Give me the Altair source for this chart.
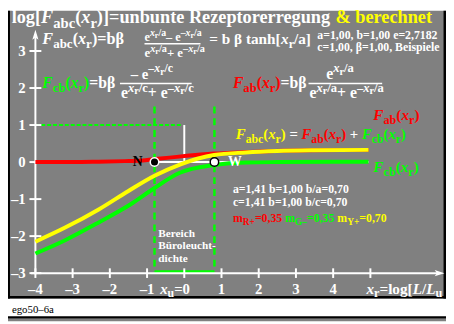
import re
import altair as alt
import pandas as pd

# ---------------- values ----------------
red_x = [-4.0, -3.0, -2.3, -1.6, -1.25, -0.8, -0.4, 0.07, 0.8, 1.65, 2.44, 3.5, 4.95]
red_y = [0.0, 0.0, 0.01, 0.025, 0.035, 0.08, 0.12, 0.17, 0.23, 0.27, 0.30, 0.32, 0.33]
yellow_x = [-4.0, -3.2, -2.3, -1.5, -0.8, -0.1, 0.8, 1.65, 2.5, 3.5, 4.95]
yellow_y = [-2.15, -1.77, -1.28, -0.78, -0.37, -0.06, 0.19, 0.26, 0.30, 0.32, 0.33]
green_x = [-4.0, -3.2, -2.3, -1.44, -0.8, -0.12, 0.8, 1.65, 2.5, 4.95]
green_y = [-2.47, -2.11, -1.63, -1.14, -0.70, -0.29, -0.08, -0.01, 0.0, 0.01]

ytick_vals = [-3, -2, -1, 0, 1, 2, 3]
ytick_text = ["–3", "–2", "–1", "0", "1", "2", "3"]
xtick_vals = [-4, -3, -2, -1, 0, 1, 2, 3, 4, 5]
xlab_vals = [-4, -3, -2, -1, 1, 2, 3, 4]
xlab_text = ["–4", "–3", "–2", "–1", "1", "2", "3", "4"]
pt_names = ["N", "W"]
pt_x = [-0.8, 0.81]
pt_y = [0.0, 0.0]
office_x = [-0.8, 0.81]
office_top = 1.5
office_bottom = -2.96

# ---------------- layout ----------------
W, H = 446, 316
OX, OY = 8, 8
X0PIX, XS = 179.5, 37.9
Y0PIX, YS = 154.0, 37.7
XD = [-X0PIX / XS, (W - X0PIX) / XS]
YD = [(Y0PIX - H) / YS, Y0PIX / YS]
xs = alt.Scale(domain=XD, nice=False, zero=False)
ys = alt.Scale(domain=YD, nice=False, zero=False)

GRAY = "#808080"
WHITE = "#ffffff"
RED = "#ff0000"
GREEN = "#00ff00"
YELLOW = "#ffff00"
BLACK = "#000000"


def dx(page_x):
    return (page_x - OX - X0PIX) / XS


def dy(page_y):
    return (Y0PIX - (page_y - OY)) / YS


BOLD = {' ': 250, '!': 333, '&': 833, '(': 333, ')': 333, '+': 570, ',': 250, '-': 333,
        '.': 250, '/': 278, ':': 333, '=': 570, '[': 333, ']': 333, '–': 500, '−': 570,
        'β': 556, 'ü': 556,
        'A': 722, 'B': 667, 'C': 722, 'D': 722, 'E': 667, 'F': 611, 'G': 778, 'H': 778,
        'I': 389, 'J': 500, 'K': 778, 'L': 667, 'M': 944, 'N': 722, 'O': 778, 'P': 611,
        'Q': 778, 'R': 722, 'S': 556, 'T': 667, 'U': 722, 'V': 722, 'W': 1000, 'X': 722,
        'Y': 722, 'Z': 667,
        'a': 500, 'b': 556, 'c': 444, 'd': 556, 'e': 444, 'f': 333, 'g': 500, 'h': 556,
        'i': 278, 'j': 333, 'k': 556, 'l': 278, 'm': 833, 'n': 556, 'o': 500, 'p': 556,
        'q': 556, 'r': 444, 's': 389, 't': 333, 'u': 556, 'v': 500, 'w': 722, 'x': 500,
        'y': 500, 'z': 444}
for d in "0123456789":
    BOLD[d] = 500
BOLDI = {'F': 667, 'L': 611, 'x': 500}

LEVELS = {'': (1.0, 0.0, False), 'i': (1.0, 0.0, True),
          'b': (0.8, 0.25, False), 'p': (0.8, -0.42, False),
          'pi': (0.8, -0.42, True), 'pb': (0.65, -0.24, False)}


def cw(ch, it):
    if it and ch in BOLDI:
        return BOLDI[ch] / 1000.0
    return BOLD.get(ch, 500) / 1000.0


rows = []


def put(runs, x, y, S, bold=True):
    if isinstance(runs, str):
        runs = [(runs, WHITE)]
    cx = x
    for markup, col in runs:
        for m in re.finditer(r'\{(\w+):([^}]*)\}|([^{]+)', markup):
            kind = m.group(1) or ''
            txt = m.group(2) if m.group(1) else m.group(3)
            f, off, it = LEVELS[kind]
            fs = S * f
            lead = len(txt) - len(txt.lstrip(' '))
            wlead = sum(cw(c, it) for c in txt[:lead]) * fs
            w = sum(cw(c, it) for c in txt) * fs
            shown = txt.strip(' ')
            if shown:
                st = ('i' if it else 'n') if bold else 'r'
                rows.append(dict(t=shown, x=dx(cx + wlead), y=dy(y + off * S), fs=fs, c=col, st=st))
            cx += w
    return cx


bars = []  # fraction bars (page x1, x2, y)

# title
put([("log[{i:F}{b:abc}({i:x}{b:r})]=unbunte Rezeptorerregung", WHITE), (" & berechnet", YELLOW)],
    11.7, 20.5, 18.6)
# tanh formula
put("{i:F}{b:abc}({i:x}{b:r})=bβ", 43, 42, 16.5)
put("e{pi:x}{pb:r}{p:/a}– e{p:–}{pi:x}{pb:r}{p:/a}", 147, 38.5, 12.5)
bars.append((147, 204, 41.5))
put("e{pi:x}{pb:r}{p:/a}+ e{p:–}{pi:x}{pb:r}{p:/a}", 147, 55, 13)
put("= b β tanh[{i:x}{b:r}/a]", 213, 42, 15.5)
put("a=1,00, b=1,00 e=2,7182", 323, 37, 12)
put("c=1,00, β=1,00, Beispiele", 323, 49, 12)
# green formula
put([("{i:F}{b:cb}({i:x}{b:r})", GREEN), ("=bβ", WHITE)], 43, 87, 16)
put("– e{p:–}{pi:x}{pb:r}{p:/c}", 133, 77, 15)
bars.append((122, 195, 82))
put("e{pi:x}{pb:r}{p:/c}+ e{p:–}{pi:x}{pb:r}{p:/c}", 123, 97, 16)
# red formula
put([("{i:F}{b:ab}({i:x}{b:r})", RED), ("=bβ", WHITE)], 237, 87, 16)
put("e{pi:x}{pb:r}{p:/a}", 332, 77, 16)
bars.append((314, 389, 82))
put("e{pi:x}{pb:r}{p:/a}+ e{p:–}{pi:x}{pb:r}{p:/a}", 315, 97, 16)
# curve labels
put([("{i:F}{b:ab}({i:x}{b:r})", RED)], 380, 119.5, 15.5)
put([("{i:F}{b:abc}({i:x}{b:r})", YELLOW), (" = ", WHITE), ("{i:F}{b:ab}({i:x}{b:r})", RED),
     (" + ", WHITE), ("{i:F}{b:cb}({i:x}{b:r})", GREEN)], 240, 139, 15)
put([("{i:F}{b:cb}({i:x}{b:r})", GREEN)], 380, 172, 15.5)
# points
put([("N", BLACK)], 135, 166, 14)
put([("W", WHITE)], 232, 166, 14)
# parameters
put("a=1,41 b=1,00 b/a=0,70", 237, 193, 12)
put("c=1,41 b=1,00 b/c=0,70", 237, 207, 12)
put([("m{b:R+}=0,35 ", RED), ("m{b:G–}=0,35 ", GREEN), ("m{b:Y+}=0,70", YELLOW)], 237, 223, 12)
# office range
put("Bereich", 161, 238, 11.5)
put("Büroleucht-", 161, 251, 11.5)
put("dichte", 161, 264, 11.5)
# axis special labels
put("{i:x}{b:u}=0", 163, 296, 15)
put("{i:x}{b:r}=log[{i:L}/{i:L}{b:u}", 373, 296, 15.5)
# footer
put([("ego50–6a", BLACK)], 12, 316, 11, bold=False)

txt_df = pd.DataFrame(rows)

one = pd.DataFrame({"k": [0]})


def prect(x1, x2, y1, y2, color):
    return alt.Chart(one).mark_rect(color=color).encode(
        x=alt.value(x1), x2=alt.value(x2), y=alt.value(y1), y2=alt.value(y2))


layers = []
# background panel and frame
layers.append(prect(0, W, 0, 293, GRAY))
layers.append(prect(0, 2, 0, 293, BLACK))
layers.append(prect(443.5, W, 0, 293, BLACK))
layers.append(prect(0, W, 290.5, 293, BLACK))
layers.append(prect(0, W, 311, 313.5, BLACK))
layers.append(prect(0, W, 313.5, H, GRAY))


def rule_df(x1, x2, y1, y2):
    return pd.DataFrame({"x": x1, "x2": x2, "y": y1, "y2": y2})


def rules(df, **kw):
    return alt.Chart(df).mark_rule(**kw).encode(
        x=alt.X("x:Q", scale=xs, axis=None), x2="x2:Q",
        y=alt.Y("y:Q", scale=ys, axis=None), y2="y2:Q")


# office range markers
layers.append(rules(rule_df(office_x, office_x, [office_top] * 2, [office_bottom] * 2),
                    color=GREEN, strokeWidth=2.5, strokeDash=[7, 5]))
layers.append(rules(rule_df([office_x[0]], [office_x[1]], [office_bottom], [office_bottom]),
                    color=GREEN, strokeWidth=3))
layers.append(rules(rule_df([-4.0], [-0.05], [1.0], [1.0]),
                    color=GREEN, strokeWidth=2, strokeDash=[4, 2]))
layers.append(rules(rule_df([0.0], [0.0], [0.0], [1.0]), color=WHITE, strokeWidth=2))
layers.append(rules(rule_df([pt_x[0]], [4.95], [0.0], [0.0]), color=WHITE, strokeWidth=2))

# axes
layers.append(rules(rule_df([-4.0], [-4.0], [-3.03], [3.42]), color=WHITE, strokeWidth=2))
layers.append(rules(rule_df([-4.12], [6.85], [-3.0], [-3.0]), color=WHITE, strokeWidth=2))
layers.append(rules(rule_df([-4.16] * len(ytick_vals), [-3.84] * len(ytick_vals), ytick_vals, ytick_vals),
                    color=WHITE, strokeWidth=2))
layers.append(rules(rule_df(xtick_vals, xtick_vals, [-3.13] * len(xtick_vals), [-2.87] * len(xtick_vals)),
                    color=WHITE, strokeWidth=2))
arrow_up = pd.DataFrame({"x": [-4.0], "y": [3.42]})
arrow_rt = pd.DataFrame({"x": [6.84], "y": [-3.0]})
layers.append(alt.Chart(arrow_up).mark_point(
    shape="M0,-1L0.55,0.75L0,0.35L-0.55,0.75Z", filled=True, color=WHITE, size=130, opacity=1).encode(
    x=alt.X("x:Q", scale=xs, axis=None), y=alt.Y("y:Q", scale=ys, axis=None)))
layers.append(alt.Chart(arrow_rt).mark_point(
    shape="M1,0L-0.75,0.55L-0.35,0L-0.75,-0.55Z", filled=True, color=WHITE, size=130, opacity=1).encode(
    x=alt.X("x:Q", scale=xs, axis=None), y=alt.Y("y:Q", scale=ys, axis=None)))


# curves
def curve(xv, yv, color):
    df = pd.DataFrame({"x": xv, "y": yv})
    return alt.Chart(df).mark_line(color=color, strokeWidth=4, interpolate="monotone").encode(
        x=alt.X("x:Q", scale=xs, axis=None), y=alt.Y("y:Q", scale=ys, axis=None))


layers.append(curve(green_x, green_y, GREEN))
layers.append(curve(red_x, red_y, RED))
layers.append(curve(yellow_x, yellow_y, YELLOW))

# points N and W
pts = pd.DataFrame({"x": pt_x, "y": pt_y, "n": pt_names})
layers.append(alt.Chart(pts[pts.n == "N"]).mark_point(
    shape="circle", filled=True, fill=BLACK, stroke=WHITE, strokeWidth=1.5, size=75, opacity=1).encode(
    x=alt.X("x:Q", scale=xs, axis=None), y=alt.Y("y:Q", scale=ys, axis=None)))
layers.append(alt.Chart(pts[pts.n == "W"]).mark_point(
    shape="circle", filled=True, fill=WHITE, stroke=BLACK, strokeWidth=1.5, size=75, opacity=1).encode(
    x=alt.X("x:Q", scale=xs, axis=None), y=alt.Y("y:Q", scale=ys, axis=None)))

# fraction bars
bdf = pd.DataFrame({"x": [dx(b[0]) for b in bars], "x2": [dx(b[1]) for b in bars],
                    "y": [dy(b[2]) for b in bars], "y2": [dy(b[2]) for b in bars]})
layers.append(rules(bdf, color=WHITE, strokeWidth=1.6))

# tick labels
ylab = pd.DataFrame({"x": [dx(26)] * len(ytick_vals), "y": ytick_vals, "t": ytick_text})
layers.append(alt.Chart(ylab).mark_text(
    align="right", baseline="middle", font="Liberation Serif", fontWeight="bold", fontSize=15, color=WHITE).encode(
    x=alt.X("x:Q", scale=xs, axis=None), y=alt.Y("y:Q", scale=ys, axis=None), text="t:N"))
xlab = pd.DataFrame({"x": xlab_vals, "y": [dy(296)] * len(xlab_vals), "t": xlab_text})
layers.append(alt.Chart(xlab).mark_text(
    align="center", baseline="alphabetic", font="Liberation Serif", fontWeight="bold", fontSize=15, color=WHITE).encode(
    x=alt.X("x:Q", scale=xs, axis=None), y=alt.Y("y:Q", scale=ys, axis=None), text="t:N"))

# rich text
for st, style, weight in [("n", "normal", "bold"), ("i", "italic", "bold"), ("r", "normal", "normal")]:
    sub = txt_df[txt_df.st == st]
    if len(sub) == 0:
        continue
    layers.append(alt.Chart(sub).mark_text(
        align="left", baseline="alphabetic", font="Liberation Serif", fontWeight=weight, fontStyle=style).encode(
        x=alt.X("x:Q", scale=xs, axis=None), y=alt.Y("y:Q", scale=ys, axis=None), text="t:N",
        size=alt.Size("fs:Q", scale=None, legend=None),
        color=alt.Color("c:N", scale=None, legend=None)))

chart = alt.layer(*layers).properties(
    width=W, height=H, padding=0, autosize=alt.AutoSizeParams(type="none"), background="#ffffff"
).configure_view(stroke=None)

chart.save("out.html", embed_options={"renderer": "svg", "actions": False})
